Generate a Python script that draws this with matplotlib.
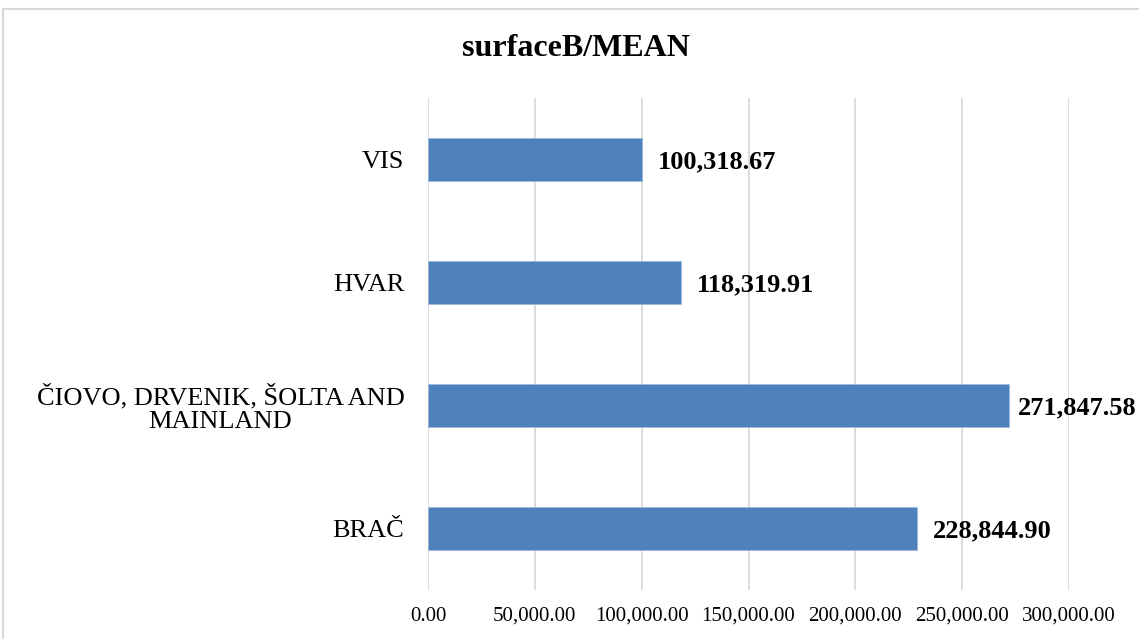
import matplotlib.pyplot as plt
from matplotlib.patches import Rectangle
from matplotlib.ticker import FuncFormatter

plt.rcParams['font.family'] = ['Liberation Serif', 'DejaVu Serif']

regions = ["BRAČ", "ČIOVO, DRVENIK, ŠOLTA AND\nMAINLAND", "HVAR", "VIS"]
means = [228844.90, 271847.58, 118319.91, 100318.67]
xticks = [0, 50000, 100000, 150000, 200000, 250000, 300000]

fig = plt.figure(figsize=(11.39, 6.39), dpi=100)
ax = fig.add_axes([428/1139, 1 - 590/639, 641/1139, 492/639])

# outer chart frame (cropped on the right and bottom like the source)
fig.patches.append(Rectangle((3/1139, -0.05), 1.2, 1.05 - 8.5/639,
                             transform=fig.transFigure, fill=False,
                             edgecolor="#D9D9D9", linewidth=1.5))

ax.barh(range(len(regions)), means, height=0.35, color="#4F81BD",
        edgecolor="#9DB8DB", linewidth=0.6, zorder=3)

labels = []
for i, v in enumerate(means):
    t = ax.annotate(f"{v:,.2f}", (v, i), xytext=(11.5, -2), textcoords="offset points",
                    va="center", ha="left", fontsize=19, fontweight="bold")
    labels.append(t)

ax.set_xlim(0, 300000)
ax.set_ylim(-0.5, len(regions) - 0.5)
ax.set_xticks(xticks)
ax.xaxis.set_major_formatter(FuncFormatter(lambda x, p: f"{x:,.2f}"))
ax.set_yticks(range(len(regions)))
ax.set_yticklabels(regions, multialignment="center", linespacing=1.1)
ax.tick_params(axis="x", length=0, labelsize=15, pad=12)
ax.tick_params(axis="y", length=0, labelsize=19, pad=17)
ax.grid(axis="x", color="#D9D9D9", linewidth=1.3, zorder=0)
for s in ax.spines.values():
    s.set_visible(False)

fig.text(576/1139, 1 - 48/639, "surfaceB/MEAN", ha="center", va="center",
         fontsize=23, fontweight="bold")

# keep data labels inside the chart, as the source does
fig.canvas.draw()
r = fig.canvas.get_renderer()
W = fig.bbox.width
for t in labels:
    bb = t.get_window_extent(r)
    if bb.x1 > W - 2:
        dx = (bb.x1 - (W - 2)) * 72 / fig.dpi
        t.set_position((11.5 - dx, -2))

fig.savefig("out.png", dpi=100)
